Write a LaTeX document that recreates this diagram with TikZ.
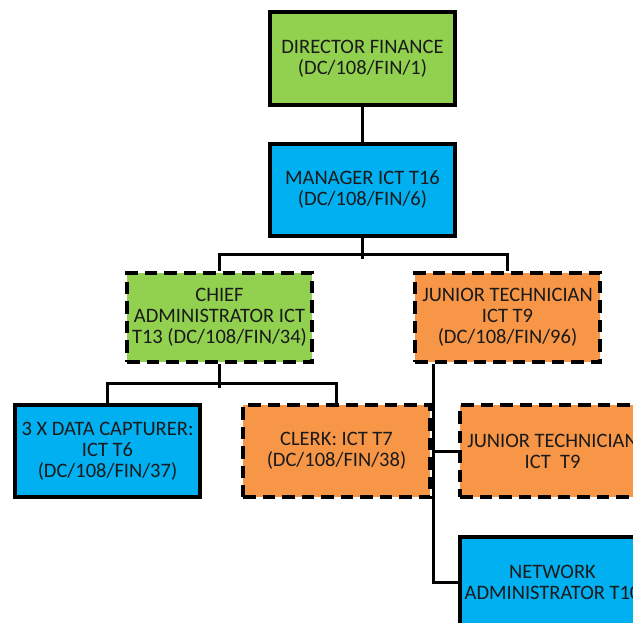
\documentclass[tikz,border=0pt]{standalone}
\usepackage{fontspec}
\setmainfont{Carlito}
\definecolor{bgreen}{HTML}{92D050}
\definecolor{bblue}{HTML}{00B0F0}
\definecolor{borange}{HTML}{F79646}
\definecolor{txt}{HTML}{1A1A1A}
\begin{document}
\begin{tikzpicture}[x=1pt,y=-1pt,
  box/.style={draw=black,line width=4.5pt,rectangle,minimum width=185pt,minimum height=92pt,
    align=center,text=txt,inner sep=1pt,
    font=\fontsize{20.5pt}{21pt}\selectfont},
  dbox/.style={box,dash pattern=on 12.5pt off 7pt},
  conn/.style={draw=black,line width=3pt}]
\useasboundingbox (0,0) rectangle (633,623);
\clip (0,0) rectangle (633,623);
\node[box,fill=bgreen,minimum height=93pt] (dir) at (362.5,58.5) {DIRECTOR FINANCE\\(DC/108/FIN/1)};
\node[box,fill=bblue] (mgr) at (362.5,190) {MANAGER ICT T16\\(DC/108/FIN/6)};
\node[dbox,fill=bgreen,minimum height=89pt] (chief) at (219.5,317.5) {CHIEF\\ADMINISTRATOR ICT\\T13 (DC/108/FIN/34)};
\node[dbox,fill=borange,minimum height=89pt] (jt) at (507.5,317.5) {JUNIOR TECHNICIAN\\ICT T9\\(DC/108/FIN/96)};
\node[box,fill=bblue] (dcap) at (107.5,451) {3 X DATA CAPTURER:\\ICT T6\\(DC/108/FIN/37)};
\node[dbox,fill=borange,minimum width=187pt] (clerk) at (336.5,451) {CLERK: ICT T7\\(DC/108/FIN/38)};
\node[dbox,fill=borange] (jt2) at (552.5,451) {JUNIOR TECHNICIAN\\ICT~~T9};
\node[box,fill=bblue,minimum height=90pt] (net) at (552.5,582) {NETWORK\\ADMINISTRATOR T10};
\coordinate (jtb) at ([xshift=-74.5pt]jt.south);
\draw[conn] (dir.south) -- (mgr.north);
\draw[conn] (mgr.south) -- ++(0,21);
\draw[conn] (chief.north) -- ++(0,-16) -| (jt.north);
\draw[conn] (chief.south) -- ++(0,24);
\draw[conn] (dcap.north) -- ++(0,-19) -| (clerk.north);
\draw[conn] (jtb) |- (jt2.west);
\draw[conn] (jtb) |- (net.west);
\end{tikzpicture}
\end{document}
